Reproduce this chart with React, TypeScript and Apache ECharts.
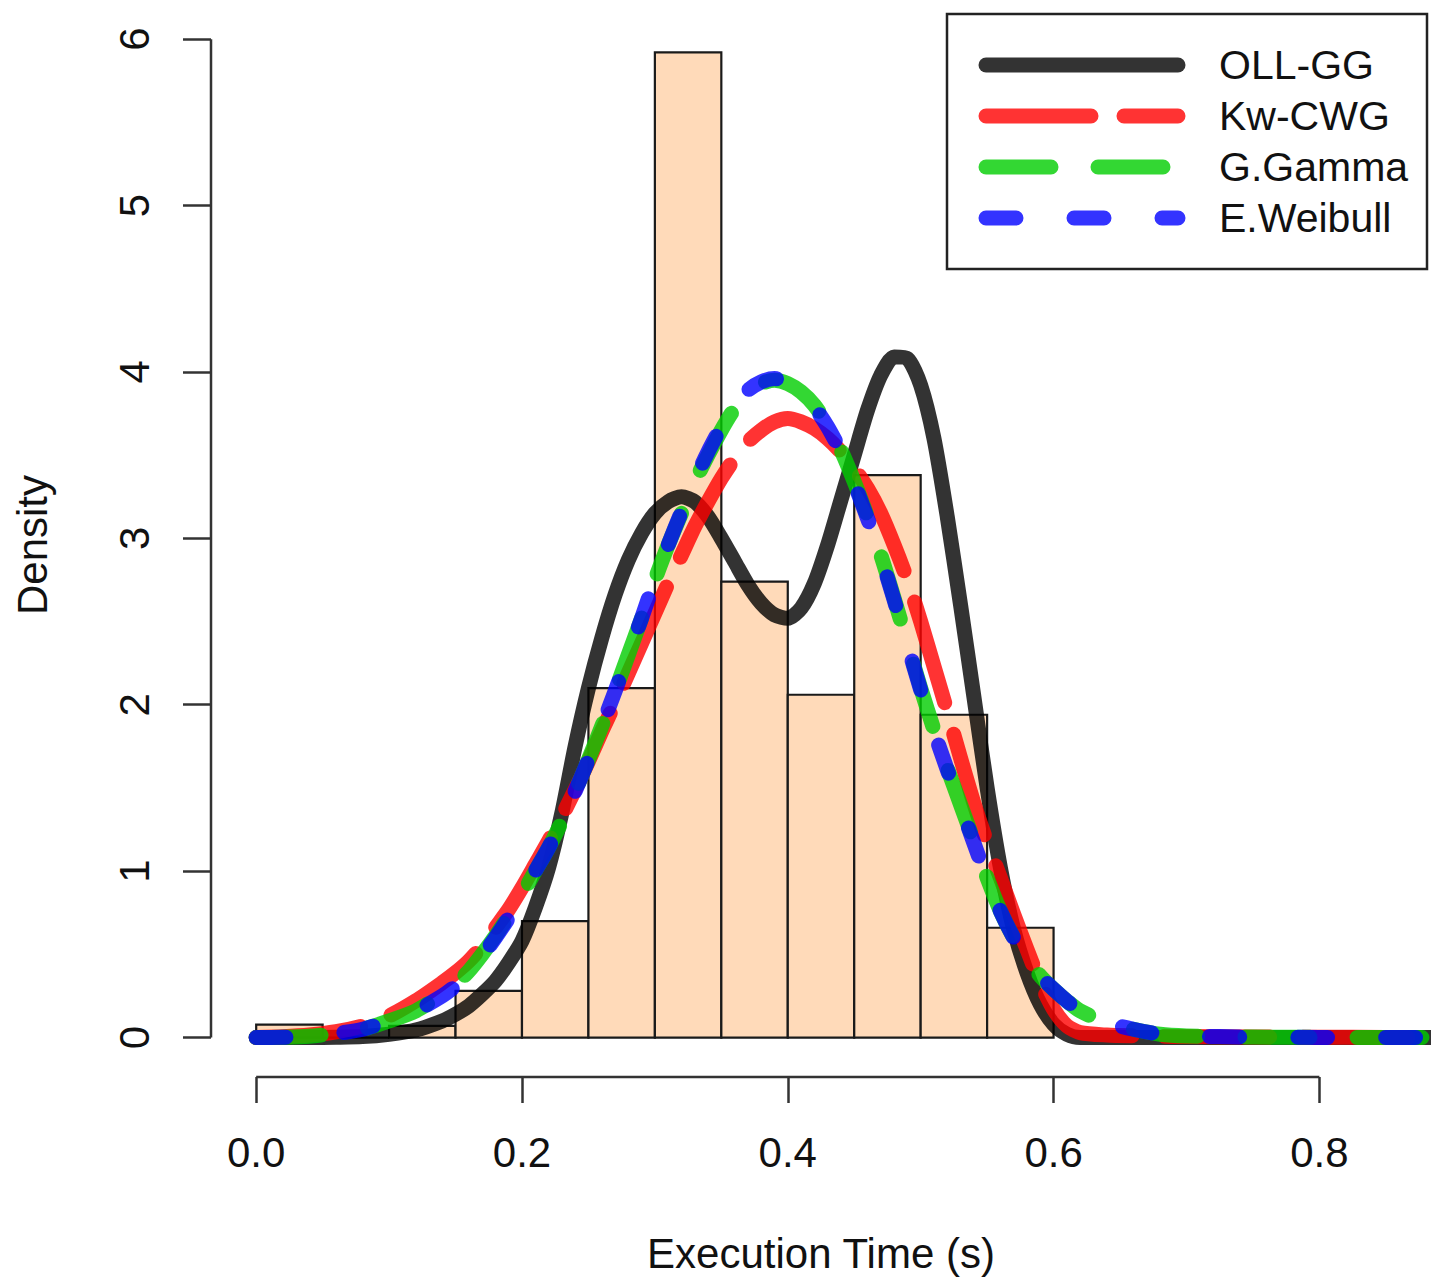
import React, { useEffect, useRef } from "react";
import * as echarts from "echarts";

// Histogram bins (Execution Time, s) and densities
const binStarts = [0.0, 0.05, 0.1, 0.15, 0.2, 0.25, 0.3, 0.35, 0.4, 0.45, 0.5, 0.55];
const binEnds = [0.05, 0.1, 0.15, 0.2, 0.25, 0.3, 0.35, 0.4, 0.45, 0.5, 0.55, 0.6];
const binDensity = [0.078, 0.0, 0.07, 0.28, 0.7, 2.1, 5.92, 2.74, 2.06, 3.38, 1.94, 0.66];

// Shared x grid for the fitted density curves
const curveX = [
  0, 0.02, 0.04, 0.06, 0.08, 0.1, 0.12, 0.14,
  0.15, 0.16, 0.17, 0.18, 0.19, 0.2, 0.21, 0.22, 0.23, 0.24, 0.25, 0.26, 0.27, 0.28, 0.29,
  0.3, 0.31, 0.32, 0.33, 0.34, 0.35, 0.36, 0.37, 0.38, 0.39, 0.4, 0.41, 0.42, 0.43, 0.44,
  0.45, 0.46, 0.47, 0.48, 0.49, 0.5, 0.51, 0.52, 0.53, 0.54, 0.55, 0.56, 0.57, 0.58, 0.59,
  0.6, 0.61, 0.62, 0.64, 0.66, 0.68, 0.7, 0.75, 0.8, 0.85, 0.9,
];

const ollgg = [
  0, 0, 0, 0.002, 0.006, 0.02, 0.045, 0.1,
  0.14, 0.19, 0.26, 0.34, 0.45, 0.58, 0.78, 1.02, 1.35, 1.75, 2.1, 2.4, 2.66, 2.87, 3.03,
  3.15, 3.22, 3.25, 3.22, 3.13, 3.0, 2.86, 2.72, 2.61, 2.54, 2.52, 2.58, 2.73, 2.96, 3.23,
  3.5, 3.77, 3.98, 4.09, 4.08, 3.92, 3.6, 3.13, 2.6, 2.05, 1.5, 1.02, 0.65, 0.39, 0.2,
  0.08, 0.02, 0, 0, 0, 0, 0, 0, 0, 0, 0,
];

const kwcwg = [
  0, 0.005, 0.015, 0.035, 0.07, 0.13, 0.22, 0.33,
  0.39, 0.46, 0.55, 0.66, 0.77, 0.9, 1.04, 1.18, 1.33, 1.49, 1.66, 1.84, 2.01, 2.19, 2.37,
  2.55, 2.73, 2.9, 3.07, 3.22, 3.36, 3.48, 3.58, 3.65, 3.7, 3.72, 3.7, 3.66, 3.6, 3.52,
  3.42, 3.3, 3.15, 2.96, 2.75, 2.5, 2.23, 1.96, 1.68, 1.41, 1.17, 0.96, 0.74, 0.53, 0.33,
  0.17, 0.07, 0.03, 0.015, 0.01, 0.008, 0.006, 0.004, 0.002, 0.001, 0,
];

const ggamma = [
  0, 0.002, 0.008, 0.025, 0.05, 0.1, 0.16, 0.26,
  0.32, 0.4, 0.5, 0.61, 0.73, 0.86, 1.0, 1.14, 1.3, 1.48, 1.67, 1.87, 2.08, 2.3, 2.52,
  2.75, 2.96, 3.15, 3.34, 3.5, 3.65, 3.78, 3.87, 3.93, 3.95, 3.93, 3.88, 3.8, 3.68, 3.53,
  3.34, 3.13, 2.9, 2.64, 2.37, 2.1, 1.85, 1.62, 1.4, 1.18, 0.96, 0.76, 0.6, 0.47, 0.37,
  0.29, 0.22, 0.16, 0.09, 0.05, 0.02, 0.01, 0.003, 0.001, 0, 0,
];

const eweibull = [
  0, 0.002, 0.008, 0.024, 0.05, 0.1, 0.16, 0.25,
  0.31, 0.39, 0.49, 0.6, 0.72, 0.86, 1.0, 1.14, 1.3, 1.48, 1.67, 1.87, 2.08, 2.3, 2.52,
  2.75, 2.96, 3.16, 3.35, 3.52, 3.67, 3.8, 3.89, 3.94, 3.96, 3.94, 3.88, 3.79, 3.67, 3.52,
  3.33, 3.12, 2.89, 2.63, 2.36, 2.09, 1.84, 1.61, 1.39, 1.17, 0.95, 0.76, 0.6, 0.47, 0.37,
  0.29, 0.22, 0.16, 0.09, 0.05, 0.02, 0.01, 0.003, 0.001, 0, 0,
];

const xTicks = [0, 0.2, 0.4, 0.6, 0.8];
const yTicks = [0, 1, 2, 3, 4, 5, 6];

const seriesNames = ["OLL-GG", "Kw-CWG", "G.Gamma", "E.Weibull"];
const seriesColors = [
  "rgba(0,0,0,0.8)",
  "rgba(255,0,0,0.8)",
  "rgba(0,205,0,0.8)",
  "rgba(0,0,255,0.8)",
];
const seriesDash: (number[] | "solid")[] = ["solid", [105, 33], [65, 47], [30, 58]];

const FONT = "'Liberation Sans', Arial, Helvetica, sans-serif";
const X_MIN = -0.034;
const X_MAX = 0.884;
const Y_MIN = -0.237;
const Y_MAX = 6.157;

export default function App() {
  const ref = useRef<HTMLDivElement>(null);

  useEffect(() => {
    if (!ref.current) return;
    const chart = echarts.init(ref.current, undefined, { renderer: "svg" });

    const curves = [ollgg, kwcwg, ggamma, eweibull];
    const curveSeries = curves.map((ys, i) => ({
      type: "line",
      name: seriesNames[i],
      data: curveX.map((x, k) => [x, ys[k]]),
      showSymbol: false,
      smooth: 0.25,
      silent: true,
      lineStyle: {
        color: seriesColors[i],
        width: 15,
        type: seriesDash[i],
        cap: "round",
        join: "round",
      },
      z: 3 + i,
    }));

    const histData = binStarts.map((s, i) => [s, binEnds[i], binDensity[i]]);

    const legendGraphics: any[] = [
      {
        type: "rect",
        shape: { x: 947, y: 14, width: 480, height: 255 },
        style: { fill: "#fff", stroke: "#222", lineWidth: 2.5 },
        z: 100,
      },
    ];
    const rowY = [65, 116, 167, 218];
    seriesNames.forEach((name, i) => {
      legendGraphics.push({
        type: "line",
        shape: { x1: 986, y1: rowY[i], x2: 1178, y2: rowY[i] },
        style: {
          stroke: seriesColors[i],
          lineWidth: 15,
          lineCap: "round",
          lineDash: seriesDash[i] === "solid" ? null : seriesDash[i],
        },
        z: 101,
      });
      legendGraphics.push({
        type: "text",
        x: 1219,
        y: rowY[i],
        style: {
          text: name,
          font: `41px ${FONT}`,
          fill: "#111",
          verticalAlign: "middle",
          textAlign: "left",
        },
        z: 101,
      });
    });

    const option: any = {
      animation: false,
      backgroundColor: "#ffffff",
      grid: { left: 211, right: 0, top: 13, bottom: 206, containLabel: false },
      xAxis: {
        type: "value",
        min: X_MIN,
        max: X_MAX,
        name: "Execution Time (s)",
        nameLocation: "middle",
        nameGap: 155,
        nameTextStyle: { fontFamily: FONT, fontSize: 42, color: "#111" },
        axisLine: { show: false, onZero: false },
        axisTick: {
          show: true,
          length: 26,
          inside: false,
          customValues: xTicks,
          lineStyle: { color: "#333", width: 2.5 },
        },
        axisLabel: {
          show: true,
          customValues: xTicks,
          formatter: (v: number) => v.toFixed(1),
          fontFamily: FONT,
          fontSize: 42,
          color: "#111",
          margin: 54,
        },
        splitLine: { show: false },
      },
      yAxis: {
        type: "value",
        min: Y_MIN,
        max: Y_MAX,
        name: "Density",
        nameLocation: "middle",
        nameRotate: 90,
        nameGap: 158,
        nameTextStyle: { fontFamily: FONT, fontSize: 42, color: "#111" },
        axisLine: { show: false, onZero: false },
        axisTick: {
          show: true,
          length: 28,
          inside: false,
          customValues: yTicks,
          lineStyle: { color: "#333", width: 2.5 },
        },
        axisLabel: {
          show: true,
          customValues: yTicks,
          rotate: 90,
          fontFamily: FONT,
          fontSize: 42,
          color: "#111",
          margin: 56,
        },
        splitLine: { show: false },
      },
      graphic: legendGraphics,
      series: [
        {
          type: "line",
          name: "yaxisline",
          data: [
            [X_MIN, yTicks[0]],
            [X_MIN, yTicks[yTicks.length - 1]],
          ],
          showSymbol: false,
          silent: true,
          clip: false,
          lineStyle: { color: "#333", width: 2.5 },
          z: 1,
        },
        {
          type: "line",
          name: "xaxisline",
          data: [
            [xTicks[0], Y_MIN],
            [xTicks[xTicks.length - 1], Y_MIN],
          ],
          showSymbol: false,
          silent: true,
          clip: false,
          lineStyle: { color: "#333", width: 2.5 },
          z: 1,
        },
        {
          type: "custom",
          name: "hist",
          data: histData,
          encode: { x: [0, 1], y: 2 },
          silent: true,
          z: 2,
          renderItem: (params: any, api: any) => {
            const x0 = api.value(0);
            const x1 = api.value(1);
            const h = api.value(2);
            const p0 = api.coord([x0, h]);
            const p1 = api.coord([x1, 0]);
            return {
              type: "rect",
              shape: { x: p0[0], y: p0[1], width: p1[0] - p0[0], height: p1[1] - p0[1] },
              style: { fill: "#FFDAB9", stroke: "#1a1a1a", lineWidth: 2.2 },
            };
          },
        },
        ...curveSeries,
      ],
    };

    chart.setOption(option);
    return () => {
      chart.dispose();
    };
  }, []);

  return (
    <div
      ref={ref}
      style={{ position: "absolute", left: 0, top: 0, width: 1431, height: 1283, background: "#fff" }}
    />
  );
}
